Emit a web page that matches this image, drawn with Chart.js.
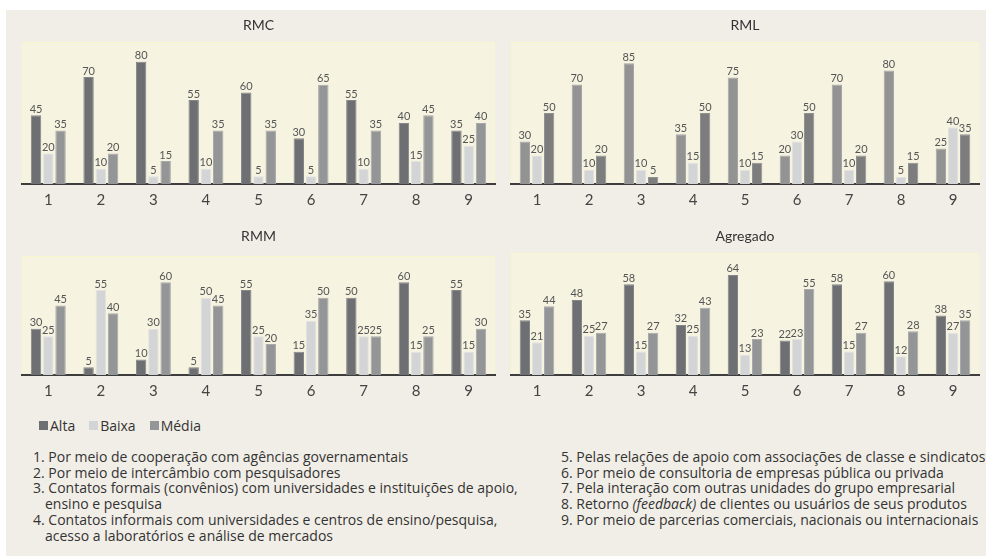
<!DOCTYPE html>
<html lang="pt">
<head>
<meta charset="utf-8">
<script src="https://cdn.jsdelivr.net/npm/chart.js@4/dist/chart.umd.min.js"></script>
<style>
  html, body { margin: 0; padding: 0; background: #ffffff; }
  body { width: 986px; height: 556px; position: relative; overflow: hidden; font-family: Lato, "Open Sans", sans-serif; }
  #panel { position: absolute; left: 6px; top: 10px; width: 980px; height: 546px; background: #f1eee7; }
  .box { position: absolute; }
  #legend { position: absolute; left: 39px; top: 416px; font-family: "Open Sans", sans-serif; font-size: 14px; color: #333; display: flex; }
  #legend .item { display: flex; align-items: center; margin-right: 14px; }
  #legend .sw { width: 9px; height: 9px; margin-right: 2px; }
  .notes { position: absolute; top: 449px; font-family: "Open Sans", sans-serif; font-size: 14px; line-height: 15.7px; color: #333; white-space: nowrap; }
  .notes .cont { padding-left: 12px; }
</style>
</head>
<body>
<div id="panel"></div>
<div class="box" style="left:6px;top:10px;width:494px;height:205px"><canvas id="c1"></canvas></div>
<div class="box" style="left:500px;top:10px;width:486px;height:205px"><canvas id="c2"></canvas></div>
<div class="box" style="left:6px;top:215px;width:494px;height:185px"><canvas id="c3"></canvas></div>
<div class="box" style="left:500px;top:215px;width:486px;height:185px"><canvas id="c4"></canvas></div>
<div id="legend"></div>
<div class="notes" id="notesLeft" style="left:33px"></div>
<div class="notes" id="notesRight" style="left:561px"></div>
<script>
// Categories (numbered forms of interaction) and series names
const categories = ['1', '2', '3', '4', '5', '6', '7', '8', '9'];
const seriesNames = ['Alta', 'Baixa', 'Média'];

// RMC
const rmcAlta  = [45, 70, 80, 55, 60, 30, 55, 40, 35];
const rmcBaixa = [20, 10, 5, 10, 5, 5, 10, 15, 25];
const rmcMedia = [35, 20, 15, 35, 35, 65, 35, 45, 40];

// RML
const rmlAlta  = [30, 70, 85, 35, 75, 20, 70, 80, 25];
const rmlBaixa = [20, 10, 10, 15, 10, 30, 10, 5, 40];
const rmlMedia = [50, 20, 5, 50, 15, 50, 20, 15, 35];

// RMM
const rmmAlta  = [30, 5, 10, 5, 55, 15, 50, 60, 55];
const rmmBaixa = [25, 55, 30, 50, 25, 35, 25, 15, 15];
const rmmMedia = [45, 40, 60, 45, 20, 50, 25, 25, 30];

// Agregado
const agrAlta  = [35, 48, 58, 32, 64, 22, 58, 60, 38];
const agrBaixa = [21, 25, 15, 25, 13, 23, 15, 12, 27];
const agrMedia = [44, 27, 27, 43, 23, 55, 27, 28, 35];

const notesLeft = [
  ['1. Por meio de cooperação com agências governamentais'],
  ['2. Por meio de intercâmbio com pesquisadores'],
  ['3. Contatos formais (convênios) com universidades e instituições de apoio,', 'ensino e pesquisa'],
  ['4. Contatos informais com universidades e centros de ensino/pesquisa,', 'acesso a laboratórios e análise de mercados']
];
const notesRight = [
  '5. Pelas relações de apoio com associações de classe e sindicatos',
  '6. Por meio de consultoria de empresas pública ou privada',
  '7. Pela interação com outras unidades do grupo empresarial',
  '8. Retorno <i>(feedback)</i> de clientes ou usuários de seus produtos',
  '9. Por meio de parcerias comerciais, nacionais ou internacionais'
];

const COLORS = {
  dark:  { fill: '#6e6f73', edge: '#85868a' },
  light: { fill: '#d3d4d5', edge: '#e2e2e2' },
  mid:   { fill: '#949596', edge: '#a8a9aa' },
  rmlA:  { fill: '#939393', edge: '#a6a6a6' },
  rmlM:  { fill: '#7d7d7e', edge: '#929293' }
};
const FONT = 'Lato, "Open Sans", sans-serif';

// Pale plot background with a faint yellow rim
const plotBg = {
  id: 'plotBg',
  beforeDraw(chart) {
    const { ctx, chartArea: a } = chart;
    ctx.save();
    ctx.fillStyle = '#f6f3e1';
    ctx.fillRect(a.left, a.top, a.right - a.left, a.bottom - a.top);
    ctx.strokeStyle = '#f8f6cc';
    ctx.lineWidth = 1;
    ctx.strokeRect(a.left + 0.5, a.top + 0.5, a.right - a.left - 1, a.bottom - a.top);
    ctx.restore();
  }
};

// Value labels above each bar
const valueLabels = {
  id: 'valueLabels',
  afterDatasetsDraw(chart) {
    const { ctx } = chart;
    ctx.save();
    ctx.font = '11px ' + FONT;
    ctx.fillStyle = '#555';
    ctx.textAlign = 'center';
    ctx.textBaseline = 'bottom';
    chart.data.datasets.forEach((ds, i) => {
      chart.getDatasetMeta(i).data.forEach((bar, j) => {
        ctx.fillText(String(ds.data[j]), bar.x, bar.y - 0.5);
      });
    });
    ctx.restore();
  }
};

function makeChart(id, title, values, colors, opts) {
  const datasets = values.map((v, i) => ({
    label: seriesNames[i],
    data: v,
    backgroundColor: colors[i].fill,
    borderColor: colors[i].edge,
    borderWidth: 1,
    categoryPercentage: 0.7,
    barPercentage: 0.85
  }));
  const lh = 16.8;
  return new Chart(document.getElementById(id), {
    type: 'bar',
    data: { labels: categories, datasets },
    options: {
      responsive: true,
      maintainAspectRatio: false,
      animation: false,
      layout: { padding: { left: opts.left, right: opts.right, top: 0, bottom: 0 } },
      plugins: {
        legend: { display: false },
        tooltip: { enabled: false },
        title: {
          display: true,
          text: title,
          color: '#333',
          font: { family: FONT, size: 14, weight: 'normal', lineHeight: 1.2 },
          padding: { top: opts.titleY - lh / 2, bottom: opts.areaTop - opts.titleY - lh / 2 }
        }
      },
      scales: {
        x: {
          grid: { display: false, drawTicks: false },
          border: { display: true, color: '#3d3d3d', width: 2 },
          ticks: { color: '#444', font: { family: FONT, size: 15 }, padding: 7 },
          afterFit(scale) { scale.height = opts.axisH; }
        },
        y: { display: false, min: 0, max: opts.max }
      }
    },
    plugins: [plotBg, valueLabels]
  });
}

const C = COLORS;
makeChart('c1', 'RMC', [rmcAlta, rmcBaixa, rmcMedia], [C.dark, C.light, C.mid],
  { left: 16, right: 5, titleY: 15, areaTop: 32, axisH: 31, max: 93 });
makeChart('c2', 'RML', [rmlAlta, rmlBaixa, rmlMedia], [C.rmlA, C.light, C.rmlM],
  { left: 11, right: 7, titleY: 15, areaTop: 32, axisH: 31, max: 100 });
makeChart('c3', 'RMM', [rmmAlta, rmmBaixa, rmmMedia], [C.dark, C.light, C.mid],
  { left: 16, right: 5, titleY: 21, areaTop: 41, axisH: 25, max: 77 });
makeChart('c4', 'Agregado', [agrAlta, agrBaixa, agrMedia], [C.dark, C.light, C.mid],
  { left: 11, right: 7, titleY: 21, areaTop: 38, axisH: 25, max: 78 });

// Legend
const legendColors = [C.dark.fill, C.light.fill, C.mid.fill];
const legend = document.getElementById('legend');
seriesNames.forEach((name, i) => {
  const item = document.createElement('span');
  item.className = 'item';
  item.innerHTML = '<span class="sw" style="background:' + legendColors[i] + '"></span>' + name;
  legend.appendChild(item);
});

// Numbered notes
const left = document.getElementById('notesLeft');
notesLeft.forEach(lines => {
  lines.forEach((t, k) => {
    const d = document.createElement('div');
    if (k > 0) d.className = 'cont';
    d.textContent = t;
    left.appendChild(d);
  });
});
const right = document.getElementById('notesRight');
notesRight.forEach(t => {
  const d = document.createElement('div');
  d.innerHTML = t;
  right.appendChild(d);
});
</script>
</body>
</html>
